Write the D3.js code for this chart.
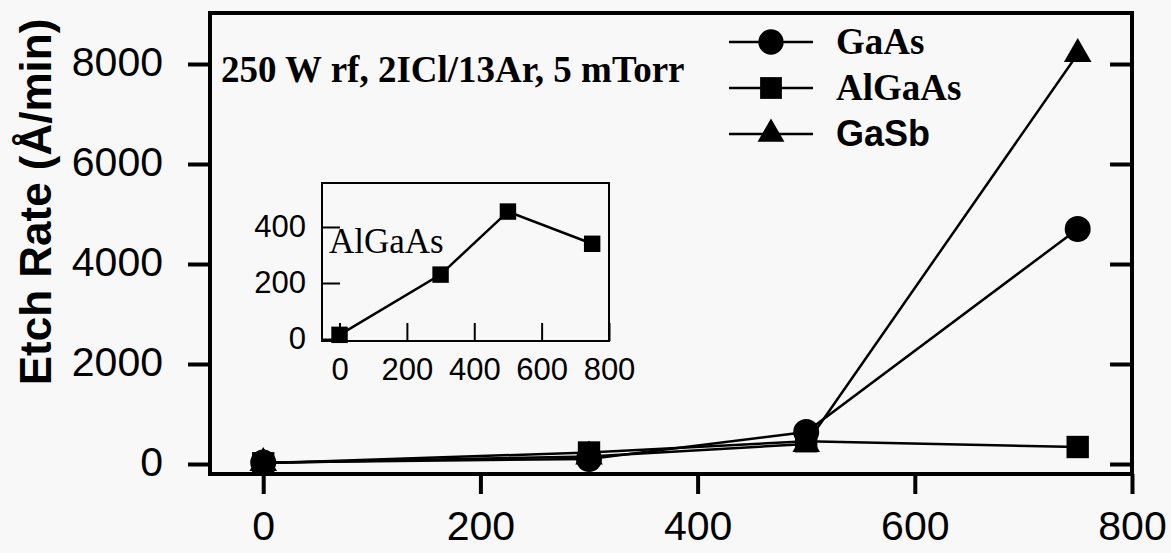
<!DOCTYPE html>
<html>
<head>
<meta charset="utf-8">
<script src="https://cdn.jsdelivr.net/npm/d3@7"></script>
<style>
  body { margin: 0; background: #f8f8f8; }
  svg { display: block; }
</style>
</head>
<body>
<div id="chart"></div>
<script>
// Data
const powers = [0, 300, 500, 750];
const gaas = [30, 100, 640, 4700];
const algaas = [15, 230, 455, 340];
const gasb = [20, 150, 400, 8200];
const mainXTicks = [0, 200, 400, 600, 800];
const mainYTicks = [0, 2000, 4000, 6000, 8000];
const insetXTicks = [0, 200, 400, 600, 800];
const insetYTicks = [0, 200, 400];
const seriesNames = ['GaAs', 'AlGaAs', 'GaSb'];

const W = 1171, H = 553;
const svg = d3.select('#chart').append('svg')
    .attr('width', W).attr('height', H);
svg.append('rect').attr('width', W).attr('height', H).attr('fill', '#f8f8f8');

// Main plot frame
const frame = { left: 210, right: 1132, top: 13, bottom: 474 };
const x = d3.scaleLinear().domain([-49, 800]).range([frame.left, frame.right]);
const y = d3.scaleLinear().domain([-200, 9020]).range([frame.bottom, frame.top]);

const sans = 'Liberation Sans, Arial, sans-serif';
const serif = 'Liberation Serif, Times New Roman, serif';
const fmt = d3.format('d');

// bottom axis, outward ticks
const xAxis = svg.append('g')
    .attr('transform', `translate(0,${frame.bottom})`)
    .call(d3.axisBottom(x).tickValues(mainXTicks).tickFormat(fmt)
        .tickSize(20).tickPadding(17).tickSizeOuter(0));
xAxis.select('.domain').remove();
xAxis.selectAll('.tick line').attr('stroke', '#000').attr('stroke-width', 4);
xAxis.selectAll('.tick text')
    .attr('font-family', sans).attr('font-size', 41).attr('fill', '#000')
    .attr('dy', '0.71em');

// left axis, outward ticks
const yAxis = svg.append('g')
    .attr('transform', `translate(${frame.left},0)`)
    .call(d3.axisLeft(y).tickValues(mainYTicks).tickFormat(fmt)
        .tickSize(22).tickPadding(25).tickSizeOuter(0));
yAxis.select('.domain').remove();
yAxis.selectAll('.tick line').attr('stroke', '#000').attr('stroke-width', 4);
yAxis.selectAll('.tick text')
    .attr('font-family', sans).attr('font-size', 41).attr('fill', '#000')
    .attr('dy', '0.28em');

// right axis, inward ticks
const yRight = svg.append('g')
    .attr('transform', `translate(${frame.right},0)`)
    .call(d3.axisLeft(y).tickValues(mainYTicks).tickSize(0).tickFormat(''));
yRight.select('.domain').remove();
yRight.selectAll('.tick line').attr('x1', 0).attr('x2', -22)
    .attr('stroke', '#000').attr('stroke-width', 4);

svg.append('rect')
    .attr('x', frame.left).attr('y', frame.top)
    .attr('width', frame.right - frame.left).attr('height', frame.bottom - frame.top)
    .attr('fill', 'none').attr('stroke', '#000').attr('stroke-width', 4);

// y title
svg.append('text')
    .attr('transform', 'translate(51,202) rotate(-90)')
    .attr('text-anchor', 'middle')
    .attr('font-family', sans).attr('font-weight', 'bold').attr('font-size', 44)
    .text('Etch Rate (Å/min)');

// annotation
svg.append('text')
    .attr('x', 221).attr('y', 82)
    .attr('font-family', serif).attr('font-weight', 'bold').attr('font-size', 37)
    .text('250 W rf, 2ICl/13Ar, 5 mTorr');

// series
const symbols = [d3.symbolCircle, d3.symbolSquare, d3.symbolTriangle];
const symSizes = [530, 500, 330];
const allSeries = [gaas, algaas, gasb];
const line = d3.line().x(d => x(d[0])).y(d => y(d[1]));

allSeries.forEach((vals, i) => {
    const pts = powers.map((p, j) => [p, vals[j]]);
    svg.append('path').datum(pts)
        .attr('d', line).attr('fill', 'none')
        .attr('stroke', '#000').attr('stroke-width', 2.5);
});
allSeries.forEach((vals, i) => {
    svg.selectAll(null).data(powers.map((p, j) => [p, vals[j]]))
        .join('path')
        .attr('transform', d => `translate(${x(d[0])},${y(d[1])})`)
        .attr('d', d3.symbol(symbols[i], symSizes[i]))
        .attr('fill', '#000');
});

// legend
const legendY = [42, 88, 134];
const legend = svg.append('g');
seriesNames.forEach((name, i) => {
    const g = legend.append('g').attr('transform', `translate(0,${legendY[i]})`);
    g.append('line').attr('x1', 729).attr('x2', 813)
        .attr('stroke', '#000').attr('stroke-width', 2.5);
    g.append('path').attr('transform', 'translate(771,0)')
        .attr('d', d3.symbol(symbols[i], symSizes[i] * 0.95)).attr('fill', '#000');
    g.append('text').attr('x', 836).attr('y', 12)
        .attr('font-family', i === 2 ? sans : serif)
        .attr('font-weight', 'bold').attr('font-size', i === 2 ? 36 : 37)
        .text(name);
});

// inset
const inset = { left: 322, right: 609, top: 183, bottom: 341 };
const ix = d3.scaleLinear().domain([-52, 800]).range([inset.left, inset.right]);
const iy = d3.scaleLinear().domain([-7, 557]).range([inset.bottom, inset.top]);

svg.append('rect')
    .attr('x', inset.left).attr('y', inset.top)
    .attr('width', inset.right - inset.left).attr('height', inset.bottom - inset.top)
    .attr('fill', '#f8f8f8').attr('stroke', '#000').attr('stroke-width', 2);

const ixAxis = svg.append('g')
    .attr('transform', `translate(0,${inset.bottom})`)
    .call(d3.axisBottom(ix).tickValues(insetXTicks).tickFormat(fmt)
        .tickSize(0).tickPadding(17).tickSizeOuter(0));
ixAxis.select('.domain').remove();
ixAxis.selectAll('.tick line').attr('y2', -18).attr('stroke', '#000').attr('stroke-width', 2);
ixAxis.selectAll('.tick text')
    .attr('font-family', sans).attr('font-size', 31).attr('fill', '#000').attr('dy', '0.71em');

const iyAxis = svg.append('g')
    .attr('transform', `translate(${inset.left},0)`)
    .call(d3.axisLeft(iy).tickValues(insetYTicks).tickFormat(fmt)
        .tickSize(0).tickPadding(16).tickSizeOuter(0));
iyAxis.select('.domain').remove();
iyAxis.selectAll('.tick line').attr('x2', 18).attr('stroke', '#000').attr('stroke-width', 2);
iyAxis.selectAll('.tick text')
    .attr('font-family', sans).attr('font-size', 31).attr('fill', '#000');

svg.append('text')
    .attr('x', 329).attr('y', 253)
    .attr('font-family', serif).attr('font-size', 35)
    .text('AlGaAs');

const insetLine = d3.line().x(d => ix(d[0])).y(d => iy(d[1]));
const insetPts = powers.map((p, j) => [p, algaas[j]]);
svg.append('path').datum(insetPts)
    .attr('d', insetLine).attr('fill', 'none')
    .attr('stroke', '#000').attr('stroke-width', 2.5);
svg.selectAll(null).data(insetPts).join('path')
    .attr('transform', d => `translate(${ix(d[0])},${iy(d[1])})`)
    .attr('d', d3.symbol(d3.symbolSquare, 270))
    .attr('fill', '#000');
</script>
</body>
</html>
